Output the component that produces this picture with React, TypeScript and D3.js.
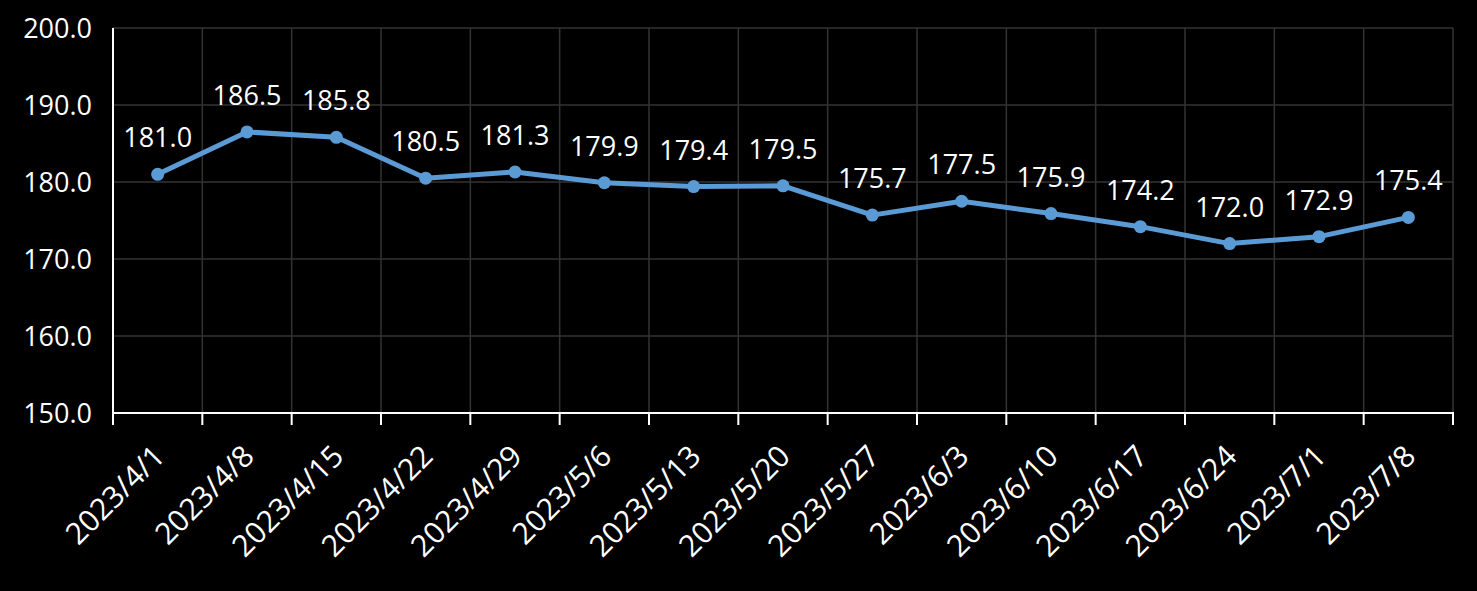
import React, { useEffect, useRef } from "react";
import * as d3 from "d3";

const categories = [
  "2023/4/1", "2023/4/8", "2023/4/15", "2023/4/22", "2023/4/29",
  "2023/5/6", "2023/5/13", "2023/5/20", "2023/5/27", "2023/6/3",
  "2023/6/10", "2023/6/17", "2023/6/24", "2023/7/1", "2023/7/8",
];
const values = [181.0, 186.5, 185.8, 180.5, 181.3, 179.9, 179.4, 179.5, 175.7, 177.5, 175.9, 174.2, 172.0, 172.9, 175.4];
const yTicks = [150, 160, 170, 180, 190, 200];

const W = 1477;
const H = 591;
const FONT = "'Open Sans', 'Noto Sans', sans-serif";

export default function App() {
  const ref = useRef<SVGSVGElement>(null);

  useEffect(() => {
    const svg = d3.select(ref.current);
    svg.selectAll("*").remove();

    const left = 113, right = 1453, top = 28, bottom = 413;
    const x = d3.scaleBand<string>().domain(categories).range([left, right]).padding(0);
    const y = d3.scaleLinear().domain([150, 200]).range([bottom, top]);

    svg.append("rect").attr("width", W).attr("height", H).attr("fill", "#000");

    // horizontal grid
    svg.append("g").selectAll("line").data(yTicks.filter((t) => t !== 150)).join("line")
      .attr("x1", left).attr("x2", right)
      .attr("y1", (d) => y(d)).attr("y2", (d) => y(d))
      .attr("stroke", "#333").attr("stroke-width", 1.5);

    // vertical grid
    const bounds = categories.map((c) => x(c)!).concat([right]);
    svg.append("g").selectAll("line").data(bounds.slice(1)).join("line")
      .attr("x1", (d) => d).attr("x2", (d) => d)
      .attr("y1", top).attr("y2", bottom)
      .attr("stroke", "#333").attr("stroke-width", 1.5);

    // axes
    svg.append("line").attr("x1", left).attr("x2", left).attr("y1", top).attr("y2", bottom + 1)
      .attr("stroke", "#fff").attr("stroke-width", 2);
    svg.append("line").attr("x1", left).attr("x2", right + 1).attr("y1", bottom).attr("y2", bottom)
      .attr("stroke", "#fff").attr("stroke-width", 2);
    svg.append("g").selectAll("line").data(bounds).join("line")
      .attr("x1", (d) => d).attr("x2", (d) => d)
      .attr("y1", bottom).attr("y2", bottom + 12)
      .attr("stroke", "#fff").attr("stroke-width", 2);

    // y labels
    svg.append("g").selectAll("text").data(yTicks).join("text")
      .attr("x", 92).attr("y", (d) => y(d) + 10)
      .attr("text-anchor", "end")
      .attr("fill", "#fff").attr("font-family", FONT).attr("font-size", 27)
      .text((d) => d.toFixed(1));

    // x labels
    const bw = x.bandwidth();
    svg.append("g").selectAll("text").data(categories).join("text")
      .attr("transform", (d) => `translate(${x(d)! + bw / 2 + 9},${bottom + 45}) rotate(-45)`)
      .attr("text-anchor", "end")
      .attr("fill", "#fff").attr("font-family", FONT).attr("font-size", 30)
      .text((d) => d);

    // line
    const pts = categories.map((c, i) => [x(c)! + bw / 2, y(values[i])] as [number, number]);
    svg.append("path").attr("d", d3.line()(pts)!)
      .attr("fill", "none").attr("stroke", "#5B9BD5").attr("stroke-width", 5)
      .attr("stroke-linejoin", "round").attr("stroke-linecap", "round");
    svg.append("g").selectAll("circle").data(pts).join("circle")
      .attr("cx", (d) => d[0]).attr("cy", (d) => d[1]).attr("r", 6.5)
      .attr("fill", "#5B9BD5");

    // data labels
    svg.append("g").selectAll("text").data(pts).join("text")
      .attr("x", (d) => d[0]).attr("y", (d) => d[1] - 27)
      .attr("text-anchor", "middle")
      .attr("fill", "#fff").attr("font-family", FONT).attr("font-size", 27)
      .text((_, i) => values[i].toFixed(1));
  }, []);

  return (
    <svg ref={ref} width={W} height={H} style={{ position: "absolute", left: 0, top: 0, display: "block" }} />
  );
}
